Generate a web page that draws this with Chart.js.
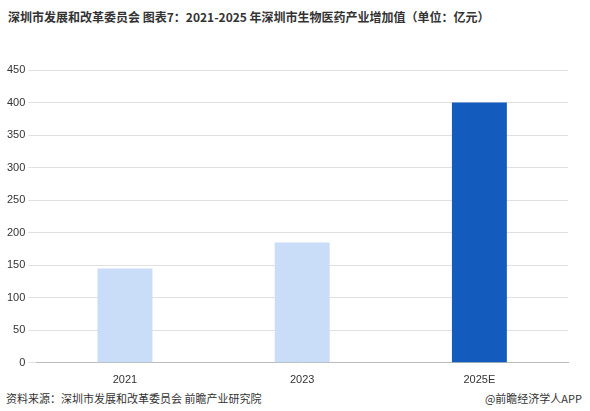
<!DOCTYPE html>
<html>
<head>
<script src="https://cdn.jsdelivr.net/npm/chart.js"></script>
<style>
  body { margin: 0; width: 590px; height: 411px; background: #fff; font-family: "Noto Sans CJK SC", sans-serif; position: relative; overflow: hidden; }
  #title { position: absolute; left: 8px; top: 8px; font-size: 12px; font-weight: bold; color: #333; white-space: nowrap; }
  #box { position: absolute; left: 0; top: 60px; width: 590px; height: 330px; }
  #src { position: absolute; left: 6px; top: 390px; font-size: 11px; color: #333; }
  #brand { position: absolute; right: 8px; top: 390px; font-size: 11px; color: #333; }
</style>
</head>
<body>
<div id="title">深圳市发展和改革委员会 图表7：2021-2025 年深圳市生物医药产业增加值（单位：亿元）</div>
<div id="box"><canvas id="myChart"></canvas></div>
<div id="src">资料来源：深圳市发展和改革委员会 前瞻产业研究院</div>
<div id="brand">@前瞻经济学人APP</div>
<script>
  const years = ['2021', '2023', '2025E'];
  const values = [145, 185, 400];
  const barColors = ['#c9dcf8', '#c9dcf8', '#135bbd'];

  new Chart(document.getElementById('myChart'), {
    type: 'bar',
    data: {
      labels: years,
      datasets: [{ data: values, backgroundColor: barColors, barPercentage: 0.31, categoryPercentage: 1 }]
    },
    options: {
      responsive: true,
      maintainAspectRatio: false,
      animation: false,
      layout: { padding: { left: 4, right: 22, top: 10 } },
      plugins: { legend: { display: false }, tooltip: { enabled: false } },
      scales: {
        x: {
          grid: { display: false },
          border: { color: '#bbb' },
          ticks: { color: '#333', font: { size: 11 } }
        },
        y: {
          min: 0, max: 450,
          ticks: { stepSize: 50, color: '#333', font: { size: 11 } },
          grid: { color: '#e0e0e0' },
          border: { display: false }
        }
      }
    }
  });
</script>
</body>
</html>
